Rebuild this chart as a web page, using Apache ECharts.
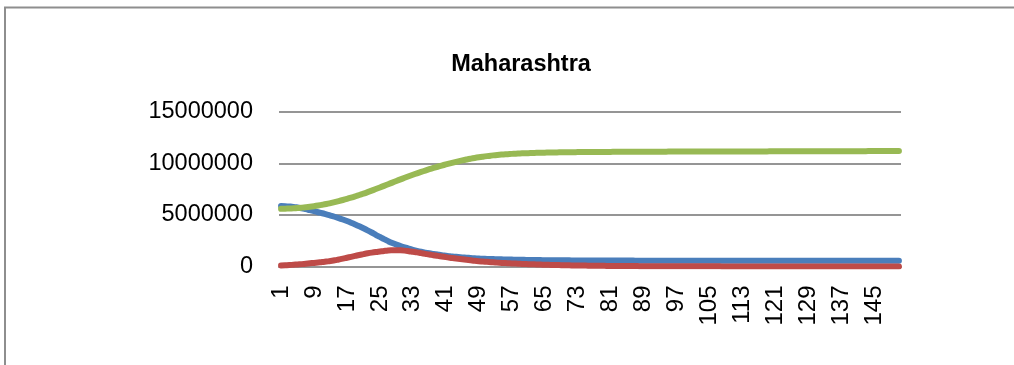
<!DOCTYPE html>
<html>
<head>
<meta charset="utf-8">
<script src="https://cdn.jsdelivr.net/npm/echarts@6/dist/echarts.min.js"></script>
<style>
  html, body { margin: 0; padding: 0; background: #ffffff; overflow: hidden; }
  #chart { width: 1014px; height: 365px; }
</style>
</head>
<body>
<div id="chart"></div>
<script>
// Day numbers on the category axis
const days = Array.from({ length: 151 }, (_, i) => String(i + 1));

// Susceptible population by day
const susceptible = [
  5880000, 5860000, 5830000, 5790000, 5730000, 5660000, 5570000, 5470000, 5370000, 5270000,
  5170000, 5060000, 4950000, 4830000, 4700000, 4560000, 4410000, 4250000, 4080000, 3900000,
  3710000, 3510000, 3300000, 3080000, 2870000, 2660000, 2460000, 2280000, 2120000, 1980000,
  1850000, 1730000, 1620000, 1520000, 1430000, 1350000, 1280000, 1220000, 1160000, 1100000,
  1050000, 1000000, 960000, 920000, 885000, 855000, 825000, 800000, 775000, 755000,
  740000, 725000, 710000, 700000, 690000, 680000, 670000, 660000, 652000, 645000,
  638000, 632000, 626000, 621000, 616000, 612000, 608000, 604000, 601000, 598000,
  595000, 592000, 590000, 588000, 586000, 584000, 582000, 580000, 578000, 577000,
  576000, 575000, 574000, 573000, 572000, 571000, 570000, 569000, 568000, 567000,
  566000, 565000, 565000, 564000, 563000, 563000, 562000, 561000, 561000, 560000,
  560000, 559000, 559000, 559000, 558000, 558000, 558000, 557000, 557000, 557000,
  556000, 556000, 556000, 556000, 555000, 555000, 555000, 555000, 554000, 554000,
  554000, 554000, 554000, 553000, 553000, 553000, 553000, 553000, 552000, 552000,
  552000, 552000, 552000, 552000, 551000, 551000, 551000, 551000, 551000, 551000,
  551000, 550000, 550000, 550000, 550000, 550000, 550000, 550000, 550000, 550000, 550000
];

// Infected population by day
const infected = [
  100000, 120000, 140000, 170000, 200000, 230000, 270000, 310000, 350000, 390000,
  430000, 480000, 530000, 600000, 680000, 760000, 850000, 940000, 1030000, 1120000,
  1200000, 1280000, 1350000, 1410000, 1460000, 1510000, 1550000, 1570000, 1580000, 1570000,
  1540000, 1490000, 1430000, 1370000, 1300000, 1230000, 1160000, 1100000, 1030000, 970000,
  910000, 850000, 800000, 750000, 700000, 650000, 600000, 550000, 510000, 480000,
  450000, 420000, 390000, 360000, 340000, 320000, 300000, 280000, 260000, 245000,
  230000, 215000, 200000, 185000, 170000, 160000, 150000, 140000, 130000, 120000,
  110000, 100000, 95000, 90000, 85000, 80000, 75000, 70000, 65000, 60000,
  55000, 52000, 49000, 46000, 43000, 40000, 38000, 36000, 34000, 32000,
  30000, 28000, 26000, 25000, 24000, 22000, 21000, 20000, 19000, 18000,
  17000, 16000, 15000, 15000, 14000, 13000, 13000, 12000, 11000, 11000,
  10000, 10000, 9000, 9000, 9000, 8000, 8000, 7000, 7000, 7000,
  6000, 6000, 6000, 6000, 5000, 5000, 5000, 5000, 5000, 4000,
  4000, 4000, 4000, 4000, 4000, 4000, 4000, 4000, 4000, 4000,
  3000, 3000, 3000, 3000, 3000, 3000, 3000, 3000, 3000, 3000, 3000
];

// Recovered population by day
const recovered = [
  5600000, 5613000, 5630000, 5652000, 5679000, 5713000, 5753000, 5800000, 5855000, 5918000,
  5989000, 6067000, 6155000, 6249000, 6349000, 6455000, 6567000, 6685000, 6809000, 6939000,
  7076000, 7219000, 7367000, 7519000, 7674000, 7831000, 7989000, 8147000, 8304000, 8459000,
  8611000, 8760000, 8905000, 9046000, 9183000, 9316000, 9444000, 9567000, 9685000, 9798000,
  9908000, 10013000, 10113000, 10208000, 10298000, 10383000, 10463000, 10537000, 10604000, 10664000,
  10718000, 10766000, 10809000, 10847000, 10880000, 10909000, 10934000, 10956000, 10975000, 10992000,
  11007000, 11020000, 11032000, 11043000, 11053000, 11062000, 11070000, 11077000, 11084000, 11090000,
  11096000, 11101000, 11106000, 11109000, 11112000, 11115000, 11118000, 11120000, 11123000, 11125000,
  11128000, 11130000, 11133000, 11135000, 11137000, 11140000, 11142000, 11144000, 11146000, 11148000,
  11149000, 11150000, 11151000, 11152000, 11153000, 11154000, 11155000, 11156000, 11157000, 11158000,
  11159000, 11160000, 11161000, 11162000, 11163000, 11164000, 11165000, 11166000, 11167000, 11168000,
  11169000, 11170000, 11171000, 11172000, 11173000, 11174000, 11175000, 11176000, 11177000, 11178000,
  11179000, 11180000, 11181000, 11182000, 11183000, 11184000, 11185000, 11186000, 11187000, 11188000,
  11189000, 11190000, 11191000, 11192000, 11193000, 11194000, 11195000, 11196000, 11197000, 11198000,
  11199000, 11200000, 11201000, 11202000, 11203000, 11204000, 11205000, 11206000, 11207000, 11208000, 11209000
];

const FONT = "'Liberation Sans', Arial, sans-serif";

const chart = echarts.init(document.getElementById('chart'), null, { renderer: 'canvas' });

function lineSeries(name, data, color) {
  return {
    name: name,
    type: 'line',
    data: data,
    symbol: 'none',
    smooth: true,
    animation: false,
    lineStyle: { color: color, width: 6, cap: 'round', join: 'round' },
    itemStyle: { color: color }
  };
}

chart.setOption({
  backgroundColor: '#ffffff',
  animation: false,
  title: {
    text: 'Maharashtra',
    left: 516,
    top: 48,
    textAlign: 'center',
    textStyle: { fontFamily: FONT, fontSize: 23.5, fontWeight: 'bold', color: '#000000' }
  },
  // Outer frame: left and top edges of the chart area
  graphic: [{
    type: 'polyline',
    shape: { points: [[5, 365], [5, 7.5], [1014, 7.5]] },
    style: { fill: 'none', stroke: '#8e8e8e', lineWidth: 2 },
    silent: true
  }],
  grid: { left: 279, right: 113, top: 112, bottom: 98.5, containLabel: false },
  xAxis: {
    type: 'category',
    data: days,
    boundaryGap: true,
    axisLine: { show: true, lineStyle: { color: '#959595', width: 2 } },
    axisTick: { show: false },
    axisLabel: {
      interval: 7,
      rotate: 90,
      margin: 19,
      color: '#000000',
      fontFamily: FONT,
      fontSize: 24
    },
    splitLine: { show: false }
  },
  yAxis: {
    type: 'value',
    min: 0,
    max: 15000000,
    interval: 5000000,
    axisLine: { show: false },
    axisTick: { show: false },
    axisLabel: {
      margin: 26,
      color: '#000000',
      fontFamily: FONT,
      fontSize: 23.5,
      formatter: (v) => String(v)
    },
    splitLine: { show: true, lineStyle: { color: '#959595', width: 2 } }
  },
  series: [
    lineSeries('Susceptible', susceptible, '#4a7ebb'),
    lineSeries('Infected', infected, '#be4b48'),
    lineSeries('Recovered', recovered, '#98b954')
  ]
});
</script>
</body>
</html>
